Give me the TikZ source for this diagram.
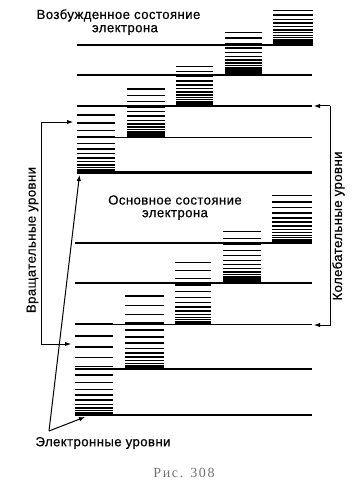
\documentclass[tikz,border=0pt]{standalone}
\usepackage{fontspec}
\setmainfont{Liberation Sans}[LetterSpace=3,FakeBold=0.4]
\newfontfamily\capfont{Liberation Serif}
\usetikzlibrary{arrows.meta}
\newcommand\rotstack[4]{%
  \foreach \k in {0,...,16}{%
    \pgfmathsetmacro\yy{#3-(#3-#4)*(\k/16)^2.2}%
    \draw[rot] (#1,\yy) -- (#2,\yy);
  }}
\begin{document}
\begin{tikzpicture}[x=1pt,y=-1pt,
  level/.style={line width=1.6pt},
  groundlevel/.style={line width=2.6pt},
  rot/.style={line width=1.5pt},
  lbl/.style={font=\fontsize{13.2}{15}\selectfont, inner sep=0pt},
  arr/.style={line width=1pt, -{Latex[length=6pt,width=4.5pt]}}]
\useasboundingbox (0,0) rectangle (361,484);
% excited state
\foreach \y in {45,75,106,137.5}{\draw[level] (77,\y) -- (312,\y);}
\draw[groundlevel] (77,172.5) -- (312,172.5);
\rotstack{77}{115}{172.5}{106}
\rotstack{127}{165}{137.5}{89}
\rotstack{176}{213}{106}{66.5}
\rotstack{225}{262}{75}{32.5}
\rotstack{273}{313}{45}{10.5}
% ground state
\foreach \y in {243,283,324.5,369}{\draw[level] (75,\y) -- (312,\y);}
\draw[groundlevel] (75,415) -- (312,415);
\rotstack{75}{113}{415}{324}
\rotstack{125}{164}{369}{296}
\rotstack{175}{211}{324.5}{262.5}
\rotstack{223}{261}{283}{231.5}
\rotstack{272}{312}{243}{195.5}
% labels
\node[lbl] (exc1) at (118.5,15.5) {Возбужденное состояние};
\node[lbl] (exc2) at (125,30) {электрона};
\node[lbl] (gnd1) at (175,200) {Основное состояние};
\node[lbl] (gnd2) at (175,215) {электрона};
\node[lbl,rotate=90] (rotlbl) at (32.5,240) {Вращательные уровни};
\node[lbl,rotate=90] (viblbl) at (338.5,226) {Колебательные уровни};
\node[lbl] (ellbl) at (103,443) {Электронные уровни};
\node[inner sep=0pt,text=black!55,font=\capfont\fontsize{14}{16}\selectfont\addfontfeature{LetterSpace=12}] (cap) at (184,473) {Рис. 308};
% rotational bracket
\coordinate (lt) at (41,122);
\coordinate (rotU) at (73,122);
\coordinate (rotL) at (71,344);
\draw[arr] (lt) -- (rotU);
\draw[arr] (lt) |- (rotL);
% vibrational bracket
\coordinate (rt) at (330,106);
\coordinate (vibU) at (314,106);
\coordinate (vibL) at (314,325);
\draw[arr] (rt) -- (vibU);
\draw[arr] (rt) |- (vibL);
% electronic arrows
\coordinate (eo) at (49,431);
\coordinate (elU) at (79.5,175);
\coordinate (elL) at (85,417);
\draw[arr] (eo) -- (elU);
\draw[arr] (eo) -- (elL);
\end{tikzpicture}
\end{document}
